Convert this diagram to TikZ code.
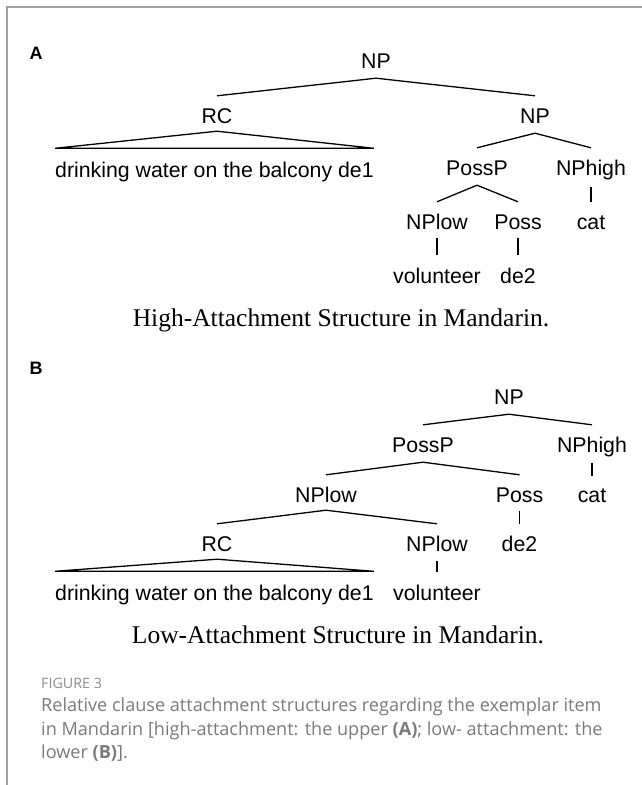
\documentclass[tikz,border=0pt]{standalone}
\usepackage{fontspec}
\setmainfont{Liberation Serif}
\setsansfont{Liberation Sans}
\newfontfamily\capfont{Open Sans}
\usepackage{tikz}
\definecolor{framegray}{HTML}{A0A0A0}
\definecolor{capgray}{HTML}{7A7A7A}
\definecolor{figgray}{HTML}{8C8C8C}

\begin{document}
\begin{tikzpicture}[
  x=1pt, y=-1pt,
  cat/.style={
    inner sep=0pt,
    text height=15pt,
    text depth=0pt,
    font=\sffamily\fontsize{21.3}{21.3}\selectfont
  },
  panel/.style={
    inner sep=0pt,
    font=\sffamily\bfseries\fontsize{18}{18}\selectfont
  },
  title/.style={
    inner sep=0pt,
    font=\rmfamily\fontsize{25.5}{25.5}\selectfont
  },
  branch/.style={line width=1.3pt},
  framing/.style={draw=framegray, line width=1.5pt}
]
\useasboundingbox (0,0) rectangle (642,785);

% Frame
\draw[framing] (7,785) -- (7,7) -- (642,7);

% Panel A: high attachment
\node[panel] (labA) at (36,53) {A};
\node[cat] (npA) at (376,61) {NP};
\node[cat] (rcA) at (217,116) {RC};
\node[cat] (nprA) at (535,116) {NP};
\node[cat, anchor=west] (drinkA) at (55,170) {drinking water on the balcony de1};
\node[cat] (posspA) at (477,168) {PossP};
\node[cat] (nphighA) at (591,168) {NPhigh};
\node[cat] (nplowA) at (437,222) {NPlow};
\node[cat] (possA) at (518,222) {Poss};
\node[cat] (catA) at (591,222) {cat};
\node[cat] (volA) at (437,276) {volunteer};
\node[cat] (detwoA) at (518,276) {de2};
\node[title] (titleA) at (341,320) {High-Attachment Structure in Mandarin.};

\draw[branch] ([yshift=12.5pt]rcA.north) -- ([yshift=-9.5pt]npA.south) -- ([yshift=12.5pt]nprA.north);
\draw[branch] ([yshift=14pt]drinkA.north west) -- ([yshift=-7.5pt]rcA.south) -- ([yshift=14pt]drinkA.north east) -- cycle;
\draw[branch] ([yshift=12.5pt]posspA.north) -- ([yshift=-9.5pt]nprA.south) -- ([yshift=12.5pt]nphighA.north);
\draw[branch] ([yshift=12.5pt]nplowA.north) -- ([yshift=-9.5pt]posspA.south) -- ([yshift=12.5pt]possA.north);
\draw[branch] ([yshift=-11pt]nphighA.south) -- ([yshift=12.5pt]catA.north);
\draw[branch] ([yshift=-8.5pt]nplowA.south) -- ([yshift=13pt]volA.north);
\draw[branch] ([yshift=-8.5pt]possA.south) -- ([yshift=13pt]detwoA.north);

% Panel B: low attachment
\node[panel] (labB) at (36,368) {B};
\node[cat] (npB) at (509,397) {NP};
\node[cat] (posspB) at (423,445) {PossP};
\node[cat] (nphighB) at (592,445) {NPhigh};
\node[cat] (nplowB) at (326,495) {NPlow};
\node[cat] (possB) at (519.5,495) {Poss};
\node[cat] (catB) at (592,495) {cat};
\node[cat] (rcB) at (217,544) {RC};
\node[cat] (nplowtwoB) at (437,544) {NPlow};
\node[cat] (detwoB) at (519.5,544) {de2};
\node[cat, anchor=west] (drinkB) at (55,593) {drinking water on the balcony de1};
\node[cat] (volB) at (437,593) {volunteer};
\node[title] (titleB) at (338,635) {Low-Attachment Structure in Mandarin.};

\draw[branch] ([yshift=12.5pt]posspB.north) -- ([yshift=-9.5pt]npB.south) -- ([yshift=12.5pt]nphighB.north);
\draw[branch] ([yshift=12.5pt]nplowB.north) -- ([yshift=-9.5pt]posspB.south) -- ([yshift=12.5pt]possB.north);
\draw[branch] ([yshift=-10pt]nphighB.south) -- ([yshift=11.5pt]catB.north);
\draw[branch] ([yshift=12.5pt]rcB.north) -- ([yshift=-7.5pt]nplowB.south) -- ([yshift=12.5pt]nplowtwoB.north);
\draw[branch] ([yshift=-8.5pt]possB.south) -- ([yshift=12.5pt]detwoB.north);
\draw[branch] ([yshift=14pt]drinkB.north west) -- ([yshift=-7.5pt]rcB.south) -- ([yshift=14pt]drinkB.north east) -- cycle;
\draw[branch] ([yshift=-9.5pt]nplowtwoB.south) -- ([yshift=13pt]volB.north);

% Caption
\node[anchor=west, inner sep=0pt, text=figgray, font=\capfont\fontsize{14.3}{14.3}\selectfont] (figno) at (41,683) {FIGURE 3};
\node[anchor=west, inner sep=0pt, align=left, text=capgray, font=\capfont\fontsize{18.1}{23.5}\selectfont] (caption) at (41,730)
  {Relative clause attachment structures regarding the exemplar item\\
   in Mandarin [high-attachment: the upper \textbf{(A)}; low- attachment: the\\
   lower \textbf{(B)}].};

\end{tikzpicture}
\end{document}
